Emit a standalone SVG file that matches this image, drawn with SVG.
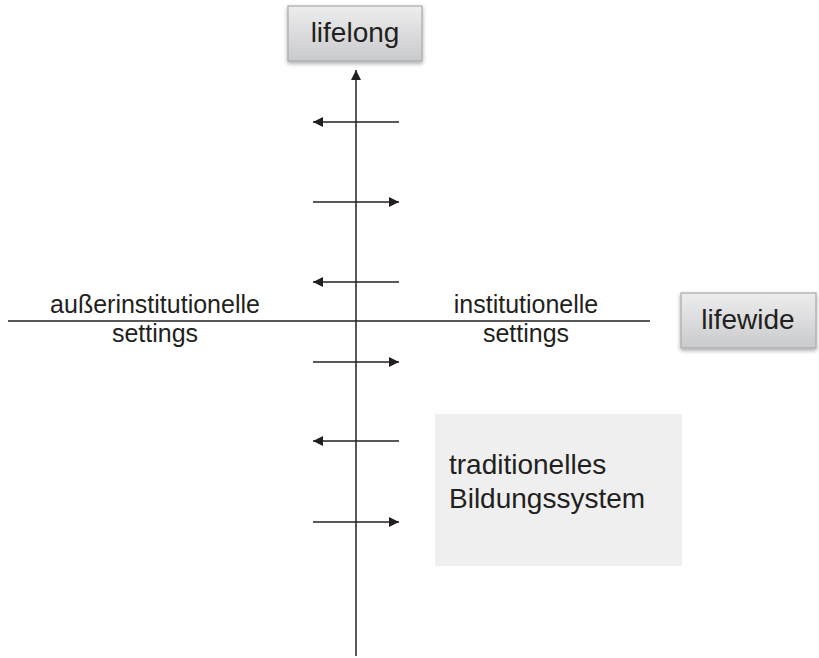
<svg xmlns="http://www.w3.org/2000/svg" width="819" height="658" viewBox="0 0 819 658">
<style>
.ln{stroke:#231f20;stroke-width:1.5;fill:none}
.t{font-family:"Liberation Sans",Arial,sans-serif;fill:#231f20}
.lbl{font-size:25px;text-anchor:middle}
.btn{fill:url(#g);stroke:#a7a9ac;stroke-width:1.2}
</style>
<defs>
<linearGradient id="g" x1="0" y1="0" x2="0" y2="1">
<stop offset="0" stop-color="#ededee"/>
<stop offset="1" stop-color="#c9cacc"/>
</linearGradient>
<filter id="sh" x="-20%" y="-20%" width="140%" height="160%">
<feDropShadow dx="0" dy="2" stdDeviation="2" flood-color="#000" flood-opacity="0.35"/>
</filter>
<marker id="ah" viewBox="0 0 10 10" refX="10" refY="5" markerWidth="11" markerHeight="10" markerUnits="userSpaceOnUse" orient="auto">
<path d="M0,0 L10,5 L0,10 Z" fill="#231f20"/>
</marker>
</defs>
<g id="trad-box">
<rect x="435" y="414" width="247" height="152" fill="#efefef"/>
<text class="t" x="449" y="474" font-size="28">traditionelles</text>
<text class="t" x="449" y="508" font-size="28">Bildungssystem</text>
</g>
<g id="connectors">
<line class="ln" x1="356" y1="656" x2="356" y2="70" marker-end="url(#ah)"/>
<line class="ln" x1="8" y1="321" x2="650" y2="321"/>
<line class="ln" x1="399" y1="122" x2="313" y2="122" marker-end="url(#ah)"/>
<line class="ln" x1="313" y1="202" x2="399" y2="202" marker-end="url(#ah)"/>
<line class="ln" x1="399" y1="282" x2="313" y2="282" marker-end="url(#ah)"/>
<line class="ln" x1="313" y1="362" x2="399" y2="362" marker-end="url(#ah)"/>
<line class="ln" x1="399" y1="441" x2="313" y2="441" marker-end="url(#ah)"/>
<line class="ln" x1="313" y1="522" x2="399" y2="522" marker-end="url(#ah)"/>
</g>
<g id="lifelong">
<rect class="btn" x="288" y="6" width="134" height="55" filter="url(#sh)"/>
<text class="t" x="355" y="42" font-size="28" text-anchor="middle">lifelong</text>
</g>
<g id="lifewide">
<rect class="btn" x="681" y="293" width="135" height="55" filter="url(#sh)"/>
<text class="t" x="748" y="329" font-size="28" text-anchor="middle">lifewide</text>
</g>
<g id="ausserinstitutionell">
<text class="t lbl" x="155" y="313">außerinstitutionelle</text>
<text class="t lbl" x="155" y="342">settings</text>
</g>
<g id="institutionell">
<text class="t lbl" x="526" y="313">institutionelle</text>
<text class="t lbl" x="526" y="342">settings</text>
</g>
</svg>
